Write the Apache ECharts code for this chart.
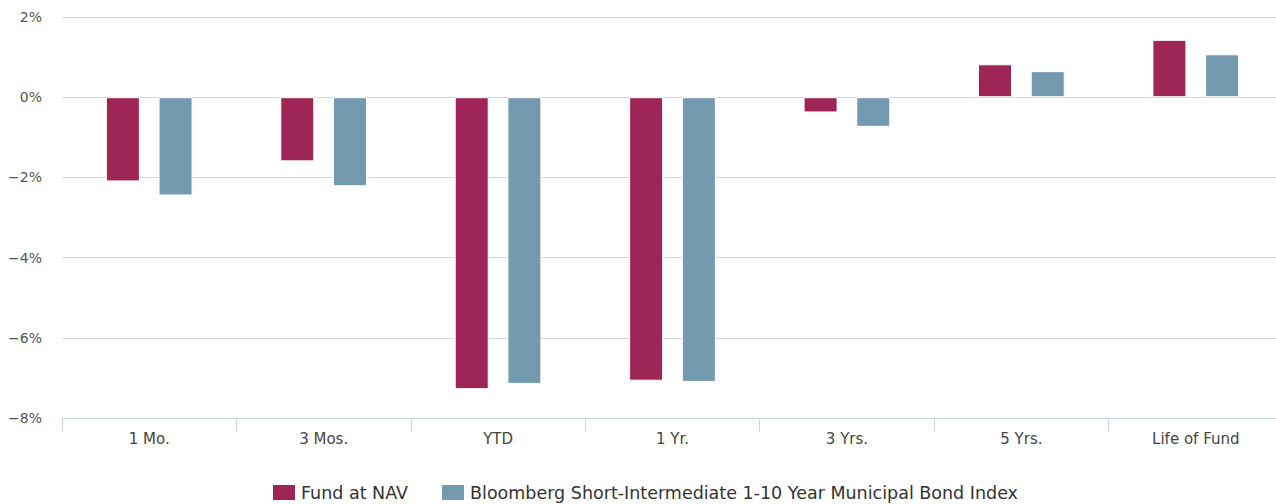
<!DOCTYPE html>
<html>
<head>
<meta charset="utf-8">
<script src="https://cdn.jsdelivr.net/npm/echarts@6/dist/echarts.min.js"></script>
<style>
  html, body { margin: 0; padding: 0; background: #fff; overflow: hidden; }
  #chart { width: 1290px; height: 504px; }
</style>
</head>
<body>
<div id="chart"></div>
<script>
var categories = ['1 Mo.', '3 Mos.', 'YTD', '1 Yr.', '3 Yrs.', '5 Yrs.', 'Life of Fund'];
var fundNav = [-2.10, -1.60, -7.28, -7.07, -0.38, 0.82, 1.43];
var benchmark = [-2.45, -2.22, -7.15, -7.10, -0.74, 0.65, 1.07];
var seriesNames = ['Fund at NAV', 'Bloomberg Short-Intermediate 1-10 Year Municipal Bond Index'];

var fontFamily = '"DejaVu Sans", Verdana, sans-serif';
var chart = echarts.init(document.getElementById('chart'), null, { renderer: 'svg' });

chart.setOption({
  animation: false,
  backgroundColor: '#fff',
  grid: { left: 62, top: 17, width: 1221, height: 401, containLabel: false },
  legend: {
    bottom: -3, left: 266,
    itemWidth: 24, itemHeight: 17, itemGap: 32,
    icon: 'rect',
    textStyle: { color: '#333', fontSize: 17.5, fontFamily: fontFamily },
    data: seriesNames
  },
  xAxis: {
    type: 'category',
    data: categories,
    axisLine: { onZero: false, lineStyle: { color: '#ccd6eb' } },
    axisTick: { show: true, length: 14, lineStyle: { color: '#ccd6eb' } },
    axisLabel: { color: '#444', fontSize: 15, fontFamily: fontFamily, margin: 13 }
  },
  yAxis: {
    type: 'value', min: -8, max: 2, interval: 2,
    axisLine: { show: false },
    axisTick: { show: false },
    axisLabel: {
      color: '#555', fontSize: 14, fontFamily: fontFamily, margin: 20,
      formatter: function (v) { return (v < 0 ? '\u2212' + Math.abs(v) : v) + '%'; }
    },
    splitLine: { lineStyle: { color: '#d6d6d6', width: 1 } }
  },
  series: [
    {
      name: seriesNames[0], type: 'bar', data: fundNav,
      barWidth: 34, barGap: '55%',
      itemStyle: { color: '#9e2657', borderColor: '#fff', borderWidth: 1 }
    },
    {
      name: seriesNames[1], type: 'bar', data: benchmark,
      barWidth: 34,
      itemStyle: { color: '#749aaf', borderColor: '#fff', borderWidth: 1 }
    }
  ]
});
</script>
</body>
</html>
